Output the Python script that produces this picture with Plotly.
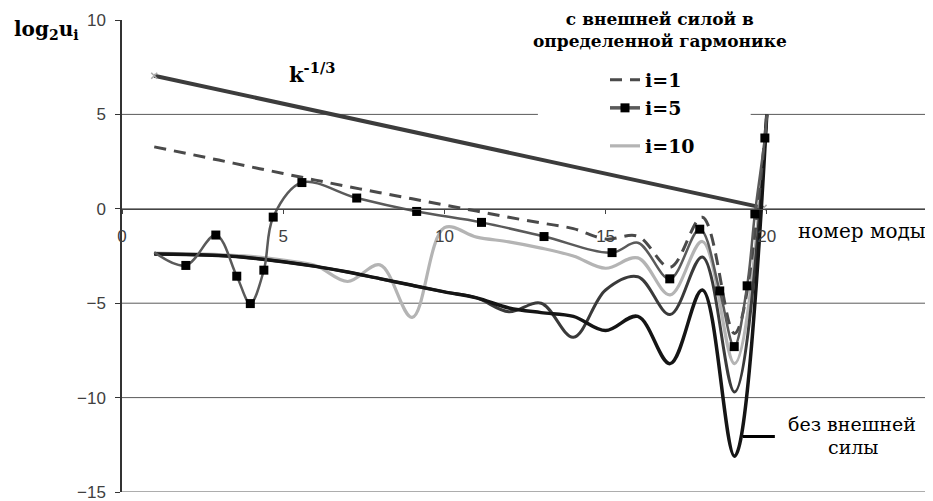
import plotly.graph_objects as go

# ---------------- data ----------------
MODES = list(range(1, 21))
NO_FORCE = [-2.4, -2.42, -2.48, -2.6, -2.8, -3.05, -3.35, -3.7, -4.05, -4.4,
            -4.72, -5.25, -5.5, -5.7, -6.45, -5.7, -8.2, -4.3, -13.1, 5.0]
OTHER = [-2.4, -2.42, -2.48, -2.6, -2.8, -3.05, -3.35, -3.7, -4.05, -4.4,
         -4.72, -5.45, -5.0, -6.8, -4.3, -3.6, -5.6, -2.55, -9.7, 5.0]
I1 = [3.28, 2.93, 2.58, 2.22, 1.87, 1.52, 1.18, 0.85, 0.53, 0.2,
      -0.12, -0.45, -0.75, -1.05, -1.6, -1.45, -3.1, -0.45, -6.6, 5.0]
I10 = [-2.35, -2.38, -2.42, -2.52, -2.72, -3.0, -3.85, -2.97, -5.75, -1.0,
       -1.5, -1.75, -2.08, -2.5, -3.15, -2.6, -4.56, -1.73, -8.2, 5.0]
I5_X = [1.0, 1.98, 2.91, 3.56, 3.98, 4.4, 4.69, 5.58, 7.28, 9.14, 11.15,
        13.09, 15.2, 16.0, 16.99, 17.92, 18.54, 18.99, 19.39, 19.63, 19.94, 20.0]
I5_Y = [-2.3, -3.0, -1.39, -3.57, -5.02, -3.25, -0.44, 1.39, 0.57, -0.14, -0.72,
        -1.47, -2.32, -1.8, -3.71, -1.08, -4.35, -7.3, -4.08, -0.27, 3.75, 4.95]
I5_MARKED = [1, 2, 3, 4, 5, 6, 7, 8, 9, 10, 11, 12, 14, 15, 16, 17, 18, 19, 20]
K_X = [1.0, 19.9]
K_Y = [7.05, 0.05]
X_TICKS = [0, 5, 10, 15, 20]
Y_TICKS = [-15, -10, -5, 0, 5, 10]
Y_GRID = [-15, -10, -5, 0, 5]

W, H = 933, 501
OFF = 8  # page body margin of the html page
ML, MT, PW, PH = 114, 12, 806, 472
MR, MB = W - ML - PW, H - MT - PH
SERIF = "DejaVu Serif"
SANS = "Liberation Sans"


def px_x(px):
    return (px - OFF - ML) / PW


def px_y(py):
    return (H - MB - (py - OFF)) / PH


fig = go.Figure()

# k^-1/3 line
fig.add_trace(go.Scatter(x=K_X, y=K_Y, mode="lines+markers", showlegend=False,
                         line=dict(color="#3c3c3c", width=4),
                         marker=dict(symbol="x-thin", size=6, color="#aaaaaa",
                                     line=dict(color="#aaaaaa", width=1.5))))
# i=10
fig.add_trace(go.Scatter(x=MODES, y=I10, mode="lines", name="<b>i=10</b>",
                         legend="legend3",
                         line=dict(color="#b4b4b4", width=3.2, shape="spline", smoothing=1)))
# other forced curve (dark gray)
fig.add_trace(go.Scatter(x=MODES, y=OTHER, mode="lines", showlegend=False,
                         line=dict(color="#3a3a3a", width=3, shape="spline", smoothing=1)))
# without external force
fig.add_trace(go.Scatter(x=MODES, y=NO_FORCE, mode="lines", showlegend=False,
                         line=dict(color="#151515", width=3.5, shape="spline", smoothing=1)))
# i=1 dashed
fig.add_trace(go.Scatter(x=MODES, y=I1, mode="lines", name="<b>i=1</b>",
                         legend="legend",
                         line=dict(color="#4a4a4a", width=3, dash="12px,8px",
                                   shape="spline", smoothing=1)))
# i=5 line + markers
fig.add_trace(go.Scatter(x=I5_X, y=I5_Y, mode="lines", showlegend=False,
                         line=dict(color="#5a5a5a", width=2.5, shape="spline", smoothing=1)))
fig.add_trace(go.Scatter(x=[I5_X[i] for i in I5_MARKED], y=[I5_Y[i] for i in I5_MARKED],
                         mode="markers", showlegend=False,
                         marker=dict(symbol="square", size=9, color="black")))
# legend entry for i=5
fig.add_trace(go.Scatter(x=[None], y=[None], mode="lines+markers", name="<b>i=5</b>",
                         legend="legend2",
                         line=dict(color="#5a5a5a", width=3.5),
                         marker=dict(symbol="square", size=9, color="black")))

# gridlines
for g in Y_GRID:
    fig.add_shape(type="line", xref="paper", x0=0, x1=1, yref="y", y0=g, y1=g,
                  line=dict(color="#5a5a5a", width=1), layer="below")
# white patch behind the legend
fig.add_shape(type="rect", xref="x", yref="y", x0=12.9, x1=19.5, y0=4.4, y1=5.6,
              line=dict(width=0), fillcolor="white", layer="below")
# pointer for "без внешней силы"
fig.add_shape(type="line", xref="x", yref="y", x0=19.26, x1=20.25, y0=-12.06, y1=-12.06,
              line=dict(color="black", width=3))

leg_common = dict(xref="paper", yref="paper", xanchor="left", yanchor="middle",
                  bgcolor="rgba(0,0,0,0)", font=dict(family=SERIF, size=19, color="black"))
fig.update_layout(
    width=W, height=H,
    margin=dict(l=ML, r=MR, t=MT, b=MB, autoexpand=False),
    paper_bgcolor="white", plot_bgcolor="white",
    legend=dict(x=px_x(605), y=px_y(80), **leg_common),
    legend2=dict(x=px_x(605), y=px_y(108), **leg_common),
    legend3=dict(x=px_x(605), y=px_y(146), **leg_common),
    xaxis=dict(range=[0, 25], tickvals=X_TICKS, showgrid=False, zeroline=False,
               anchor="free", position=0.6, showline=True, linecolor="#444", linewidth=1,
               ticks="outside", ticklen=4, tickcolor="#444", ticklabelstandoff=8,
               automargin=False,
               tickfont=dict(family=SANS, size=17, color="#404040")),
    yaxis=dict(range=[-15, 10], tickvals=Y_TICKS, showgrid=False, zeroline=False,
               showline=True, linecolor="#333", linewidth=1.5, automargin=False,
               ticks="outside", ticklen=5, tickcolor="#333", ticklabelstandoff=6,
               tickfont=dict(family=SANS, size=17, color="#404040")),
)

ann = [
    dict(text="<b>log<sub>2</sub>u<sub>i</sub></b>", xref="paper", yref="paper",
         x=px_x(46), y=px_y(30), xanchor="center", yanchor="middle",
         font=dict(family=SERIF, size=20, color="black")),
    dict(text="<b>k<sup>-1/3</sup></b>", xref="x", yref="y", x=5.9, y=7.2,
         xanchor="center", yanchor="middle", font=dict(family=SERIF, size=21, color="black")),
    dict(text="<b>с внешней силой в<br>определенной гармонике</b>", xref="paper", yref="paper",
         x=px_x(660), y=px_y(30), xanchor="center", yanchor="middle",
         font=dict(family=SERIF, size=17, color="black")),
    dict(text="номер моды", xref="paper", yref="y", x=1.0, y=-1.16,
         xanchor="right", yanchor="middle", font=dict(family=SERIF, size=20, color="black")),
    dict(text="без внешней", xref="x", yref="y", x=22.64, y=-11.42,
         xanchor="center", yanchor="middle", font=dict(family=SERIF, size=19, color="black")),
    dict(text="силы", xref="x", yref="y", x=22.7, y=-12.6,
         xanchor="center", yanchor="middle", font=dict(family=SERIF, size=19, color="black")),
]
for a in ann:
    a["showarrow"] = False
    fig.add_annotation(**a)

fig.write_html("out.html")
